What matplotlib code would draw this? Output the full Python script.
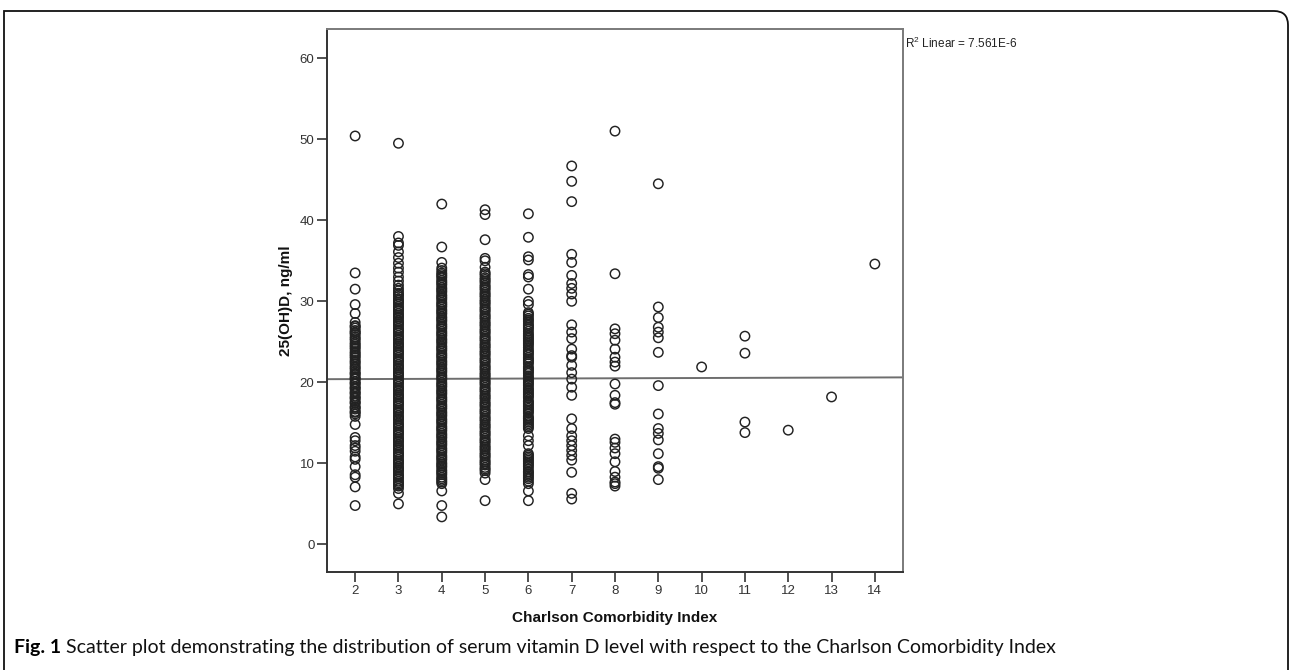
import numpy as np
import matplotlib
matplotlib.use("Agg")
from matplotlib import pyplot as plt
from matplotlib.path import Path
from matplotlib.patches import PathPatch

plt.rcParams['font.family'] = ['Liberation Sans', 'DejaVu Sans']
plt.rcParams['mathtext.default'] = 'regular'

# Charlson Comorbidity Index categories and 25(OH)D values (ng/ml)
cci_values = [2, 3, 4, 5, 6, 7, 8, 9, 10, 11, 12, 13, 14]

vitd_cci2 = [50.4, 33.5, 31.5, 29.6, 28.5, 27.4, 27.0, 26.9, 26.7, 26.4, 26.2, 26.1, 25.9,
             25.6, 25.4, 25.2, 24.9, 24.7, 24.5, 24.3, 24.1, 23.8, 23.6, 23.4, 23.2, 23.0,
             22.7, 22.5, 22.3, 22.0, 21.8, 21.6, 21.3, 21.1, 21.0, 20.7, 20.5, 20.4, 20.1,
             19.9, 19.8, 19.5, 19.3, 19.2, 18.9, 18.7, 18.6, 18.3, 18.1, 18.0, 17.7, 17.5,
             17.4, 17.0, 16.9, 16.7, 16.4, 16.3, 16.1, 15.8, 14.8, 13.2, 12.8, 12.2, 11.9,
             11.5, 10.8, 10.5, 9.6, 8.6, 8.3, 7.1, 4.8]
vitd_cci3 = [49.5, 38.0, 37.2, 36.9, 36.1, 35.4, 34.7, 34.1, 33.6, 33.0, 32.5, 32.0, 31.6,
             31.3, 31.0, 30.8, 30.6, 30.3, 30.1, 29.9, 29.7, 29.4, 29.2, 29.0, 28.8, 28.5,
             28.3, 28.1, 27.9, 27.6, 27.4, 27.2, 27.0, 26.7, 26.5, 26.3, 26.1, 25.8, 25.6,
             25.4, 25.2, 24.9, 24.7, 24.5, 24.3, 24.0, 23.8, 23.6, 23.4, 23.1, 22.9, 22.7,
             22.5, 22.2, 22.0, 21.8, 21.6, 21.3, 21.1, 20.9, 20.7, 20.4, 20.2, 20.0, 19.8,
             19.5, 19.3, 19.1, 18.9, 18.6, 18.4, 18.2, 18.0, 17.7, 17.5, 17.3, 17.1, 16.8,
             16.6, 16.4, 16.2, 15.9, 15.7, 15.5, 15.3, 15.0, 14.8, 14.6, 14.4, 14.1, 13.9,
             13.7, 13.5, 13.2, 13.0, 12.8, 12.6, 12.3, 12.1, 11.9, 11.7, 11.4, 11.2, 11.0,
             10.8, 10.5, 10.3, 10.1, 9.9, 9.6, 9.4, 9.2, 9.0, 8.7, 8.5, 8.3, 8.1, 7.8, 7.6,
             7.4, 7.2, 6.9, 6.3, 5.0]
vitd_cci4 = [42.0, 36.7, 34.8, 34.1, 33.8, 33.5, 33.3, 33.1, 32.9, 32.6, 32.4, 32.2, 32.0,
             31.7, 31.5, 31.3, 31.1, 30.8, 30.6, 30.4, 30.2, 29.9, 29.7, 29.5, 29.3, 29.0,
             28.8, 28.6, 28.4, 28.1, 27.9, 27.7, 27.5, 27.2, 27.0, 26.8, 26.6, 26.3, 26.1,
             25.9, 25.7, 25.4, 25.2, 25.0, 24.8, 24.5, 24.3, 24.1, 23.9, 23.6, 23.4, 23.2,
             23.0, 22.7, 22.5, 22.3, 22.1, 21.8, 21.6, 21.4, 21.2, 20.9, 20.7, 20.5, 20.3,
             20.0, 19.8, 19.6, 19.4, 19.1, 18.9, 18.7, 18.5, 18.2, 18.0, 17.8, 17.6, 17.3,
             17.1, 16.9, 16.7, 16.4, 16.2, 16.0, 15.8, 15.5, 15.3, 15.1, 14.9, 14.6, 14.4,
             14.2, 14.0, 13.7, 13.5, 13.3, 13.1, 12.8, 12.6, 12.4, 12.2, 11.9, 11.7, 11.5,
             11.3, 11.0, 10.8, 10.6, 10.4, 10.1, 9.9, 9.7, 9.5, 9.2, 9.0, 8.8, 8.6, 8.3,
             8.1, 7.9, 7.7, 7.5, 6.6, 4.8, 3.4]
vitd_cci5 = [41.3, 40.7, 37.6, 35.3, 35.0, 34.2, 33.6, 33.4, 33.2, 32.9, 32.7, 32.5, 32.3,
             32.0, 31.8, 31.6, 31.4, 31.1, 30.9, 30.7, 30.5, 30.2, 30.0, 29.8, 29.6, 29.3,
             29.1, 28.9, 28.7, 28.4, 28.2, 28.0, 27.8, 27.5, 27.3, 27.1, 26.9, 26.6, 26.4,
             26.2, 26.0, 25.7, 25.5, 25.3, 25.1, 24.8, 24.6, 24.4, 24.2, 23.9, 23.7, 23.5,
             23.3, 23.0, 22.8, 22.6, 22.4, 22.1, 21.9, 21.7, 21.5, 21.2, 21.0, 20.8, 20.6,
             20.3, 20.1, 19.9, 19.7, 19.4, 19.2, 19.0, 18.8, 18.5, 18.3, 18.1, 17.9, 17.6,
             17.4, 17.2, 17.0, 16.7, 16.5, 16.3, 16.1, 15.8, 15.6, 15.4, 15.2, 14.9, 14.7,
             14.5, 14.3, 14.0, 13.8, 13.6, 13.4, 13.1, 12.9, 12.7, 12.5, 12.2, 12.0, 11.8,
             11.6, 11.3, 11.1, 10.9, 10.7, 10.4, 10.2, 10.0, 9.8, 9.5, 9.3, 9.1, 8.8, 8.0,
             5.4]
vitd_cci6 = [40.8, 37.9, 35.5, 35.1, 33.3, 33.0, 31.5, 30.0, 29.6, 28.6, 28.4, 28.2, 27.9,
             27.7, 27.5, 27.2, 27.0, 26.8, 26.6, 26.3, 26.0, 25.8, 25.6, 25.4, 25.2, 25.0,
             24.8, 24.6, 24.3, 24.0, 23.8, 23.6, 23.4, 23.1, 22.9, 22.7, 22.5, 22.3, 21.9,
             21.7, 21.5, 21.3, 21.1, 20.8, 20.6, 20.4, 20.2, 20.0, 19.8, 19.6, 19.3, 19.1,
             18.9, 18.7, 18.5, 18.3, 18.1, 17.7, 17.6, 17.4, 17.2, 17.0, 16.8, 16.6, 16.4,
             16.2, 15.8, 15.6, 15.5, 15.3, 15.1, 14.9, 14.7, 14.5, 14.3, 13.4, 12.8, 12.2,
             11.2, 11.0, 10.8, 10.6, 10.4, 10.2, 10.0, 9.8, 9.6, 9.3, 9.0, 8.9, 8.7, 8.5,
             8.3, 8.1, 7.8, 7.5, 6.6, 5.4]
vitd_cci7 = [46.7, 44.8, 42.3, 35.8, 34.8, 33.2, 32.2, 31.6, 30.9, 30.0, 27.1, 26.2, 25.4,
             24.1, 23.3, 23.1, 22.1, 21.2, 20.4, 19.4, 18.4, 15.5, 14.3, 13.4, 12.8, 12.2,
             11.6, 11.0, 10.4, 8.9, 6.3, 5.6]
vitd_cci8 = [51.0, 33.4, 26.6, 26.0, 25.2, 24.1, 23.1, 22.5, 22.0, 19.8, 18.4, 17.5, 17.3,
             13.0, 12.6, 11.9, 11.2, 10.2, 9.0, 8.3, 7.7, 7.5, 7.2]
vitd_cci9 = [44.5, 29.3, 28.0, 26.8, 26.2, 25.5, 23.7, 19.6, 16.1, 14.3, 13.7, 12.9, 11.2,
             9.6, 9.4, 8.0]
vitd_cci10 = [21.9]
vitd_cci11 = [25.7, 23.6, 15.1, 13.8]
vitd_cci12 = [14.1]
vitd_cci13 = [18.2]
vitd_cci14 = [34.6]

all_vitd = [vitd_cci2, vitd_cci3, vitd_cci4, vitd_cci5, vitd_cci6, vitd_cci7, vitd_cci8,
            vitd_cci9, vitd_cci10, vitd_cci11, vitd_cci12, vitd_cci13, vitd_cci14]

# linear fit line (R2 linear = 7.561E-6)
fit_intercept = 20.37
fit_slope = 0.0167

y_ticks = [0, 10, 20, 30, 40, 50, 60]

W, H = 1292, 670
fig = plt.figure(figsize=(W / 100, H / 100), dpi=100)

# axes box in pixel coordinates
left, right, top, bottom = 327, 903, 29, 572
ax = fig.add_axes([left / W, 1 - bottom / H, (right - left) / W, (bottom - top) / H])

for cat, vals in zip(cci_values, all_vitd):
    ax.scatter(np.full(len(vals), cat), vals, s=46, facecolors='none',
               edgecolors='#222222', linewidths=1.05, zorder=3)

xlim = (1.35, 14.65)
xs = np.array(xlim)
ax.plot(xs, fit_intercept + fit_slope * xs, color='#6e6e6e', lw=1.4, zorder=2)

ax.set_xlim(*xlim)
ax.set_ylim(-3.4, 63.6)
ax.set_xticks(cci_values)
ax.set_yticks(y_ticks)
ax.tick_params(direction='out', length=7, width=1.2, color='#333333',
               labelsize=9.5, labelcolor='#333333', pad=2)

for side in ['left', 'bottom']:
    ax.spines[side].set_color('#333333')
    ax.spines[side].set_linewidth(1.4)
for side in ['top', 'right']:
    ax.spines[side].set_color('#7a7a7a')
    ax.spines[side].set_linewidth(1.4)

ax.set_xlabel('Charlson Comorbidity Index', fontsize=11, fontweight='bold', color='#111111')
ax.set_ylabel('25(OH)D, ng/ml', fontsize=11, fontweight='bold', color='#111111')
ax.xaxis.set_label_coords(0.5, -(611 - bottom) / (bottom - top))
ax.yaxis.set_label_coords(-(left - 293) / (right - left), 0.5)

fig.text((right + 2) / W, 1 - 36 / H, r'R$^2$ Linear = 7.561E-6', fontsize=8.5,
         ha='left', va='top', color='#222222')

# outer frame with rounded top-right corner
r = 14
x0, x1, y0 = 4, 1288, 11
verts = [(x0, H + 50), (x0, y0), (x1 - r, y0), (x1, y0), (x1, y0 + r), (x1, H + 50)]
codes = [Path.MOVETO, Path.LINETO, Path.LINETO, Path.CURVE3, Path.CURVE3, Path.LINETO]
verts = [(vx / W, 1 - vy / H) for vx, vy in verts]
fig.patches.append(PathPatch(Path(verts, codes), transform=fig.transFigure,
                             fill=False, edgecolor='#111111', lw=1.3))

# caption
cap_y = 1 - 647 / H
t1 = fig.text(14 / W, cap_y, 'Fig. 1', fontsize=14, fontweight='bold',
              family=['Lato', 'DejaVu Sans'], ha='left', va='center')
fig.canvas.draw()
bb = t1.get_window_extent()
fig.text((bb.x1 + 5) / W, cap_y,
         'Scatter plot demonstrating the distribution of serum vitamin D level with respect to the Charlson Comorbidity Index',
         fontsize=14, family=['Lato', 'DejaVu Sans'], ha='left', va='center', color='#111111')

fig.savefig('out.png', dpi=100)
